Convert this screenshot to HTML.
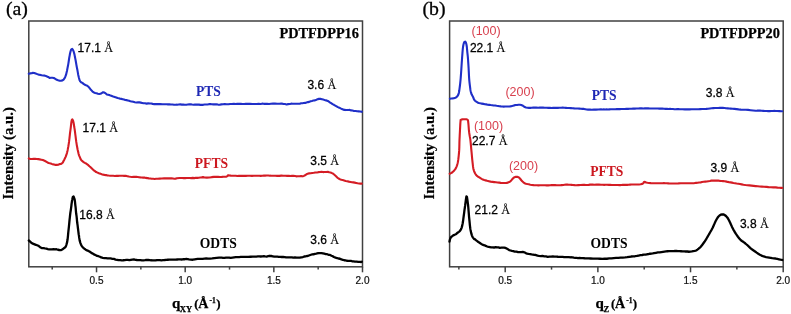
<!DOCTYPE html>
<html><head><meta charset="utf-8"><style>
html,body{margin:0;padding:0;background:#fff;}
body{width:791px;height:314px;overflow:hidden;}
svg{display:block;will-change:transform;}
text{font-family:"Liberation Sans",sans-serif;}
.tk{font-size:10px;fill:#111;stroke:#111;stroke-width:0.22px;}
.ann{font-size:12px;stroke:#000;stroke-width:0.26px;}
.ang{font-family:"Liberation Serif",serif;font-size:12.2px;stroke-width:0.2px;}
.hkl{font-size:12.5px;}
.nm{font-family:"Liberation Serif",serif;font-weight:bold;font-size:13.6px;}
.ttl{font-family:"Liberation Serif",serif;font-weight:bold;font-size:14.3px;fill:#000;stroke:#000;stroke-width:0.25px;}
.pl{font-family:"Liberation Serif",serif;font-size:19.8px;fill:#000;stroke:#000;stroke-width:0.3px;}
.yl{font-family:"Liberation Serif",serif;font-weight:bold;font-size:14.8px;fill:#000;stroke:#000;stroke-width:0.2px;}
.xl{font-family:"Liberation Serif",serif;font-weight:bold;font-size:13px;fill:#000;stroke:#000;stroke-width:0.25px;}
.xq{font-size:15px;}
.xs{font-size:8.6px;}
.xsup{font-size:7.5px;}
.xa{font-size:14px;}
</style></head><body>
<svg width="791" height="314" viewBox="0 0 791 314">
<rect width="791" height="314" fill="#fff"/>
<rect x="28.8" y="21" width="333.7" height="245.8" fill="none" stroke="#404040" stroke-width="1.5"/>
<line x1="52.21" y1="266.8" x2="52.21" y2="269.6" stroke="#404040" stroke-width="1.5"/>
<line x1="96.53" y1="266.8" x2="96.53" y2="272.3" stroke="#404040" stroke-width="1.5"/>
<text x="96.53" y="284" class="tk" text-anchor="middle">0.5</text>
<line x1="140.86" y1="266.8" x2="140.86" y2="269.6" stroke="#404040" stroke-width="1.5"/>
<line x1="185.19" y1="266.8" x2="185.19" y2="272.3" stroke="#404040" stroke-width="1.5"/>
<text x="185.19" y="284" class="tk" text-anchor="middle">1.0</text>
<line x1="229.52" y1="266.8" x2="229.52" y2="269.6" stroke="#404040" stroke-width="1.5"/>
<line x1="273.84" y1="266.8" x2="273.84" y2="272.3" stroke="#404040" stroke-width="1.5"/>
<text x="273.84" y="284" class="tk" text-anchor="middle">1.5</text>
<line x1="318.17" y1="266.8" x2="318.17" y2="269.6" stroke="#404040" stroke-width="1.5"/>
<line x1="362.50" y1="266.8" x2="362.50" y2="272.3" stroke="#404040" stroke-width="1.5"/>
<text x="362.50" y="284" class="tk" text-anchor="middle">2.0</text>
<rect x="449.6" y="21" width="333.6" height="245.8" fill="none" stroke="#404040" stroke-width="1.5"/>
<line x1="458.87" y1="266.8" x2="458.87" y2="269.6" stroke="#404040" stroke-width="1.5"/>
<line x1="505.20" y1="266.8" x2="505.20" y2="272.3" stroke="#404040" stroke-width="1.5"/>
<text x="505.20" y="284" class="tk" text-anchor="middle">0.5</text>
<line x1="551.53" y1="266.8" x2="551.53" y2="269.6" stroke="#404040" stroke-width="1.5"/>
<line x1="597.87" y1="266.8" x2="597.87" y2="272.3" stroke="#404040" stroke-width="1.5"/>
<text x="597.87" y="284" class="tk" text-anchor="middle">1.0</text>
<line x1="644.20" y1="266.8" x2="644.20" y2="269.6" stroke="#404040" stroke-width="1.5"/>
<line x1="690.53" y1="266.8" x2="690.53" y2="272.3" stroke="#404040" stroke-width="1.5"/>
<text x="690.53" y="284" class="tk" text-anchor="middle">1.5</text>
<line x1="736.87" y1="266.8" x2="736.87" y2="269.6" stroke="#404040" stroke-width="1.5"/>
<line x1="783.20" y1="266.8" x2="783.20" y2="272.3" stroke="#404040" stroke-width="1.5"/>
<text x="783.20" y="284" class="tk" text-anchor="middle">2.0</text>
<path d="M28.80,73.70 L30.22,73.38 L31.53,73.19 L32.89,72.87 L34.19,73.01 L35.66,73.54 L37.26,74.14 L38.97,74.79 L40.30,74.90 L41.72,75.29 L43.26,75.56 L44.86,75.64 L46.49,76.29 L48.07,76.91 L49.57,77.93 L50.94,77.78 L52.22,77.71 L53.83,77.99 L55.34,78.83 L56.76,79.77 L58.10,80.25 L59.67,80.73 L61.11,80.62 L62.42,80.47 L63.60,79.61 L64.42,78.49 L65.12,77.23 L65.60,75.96 L66.06,74.69 L66.52,72.73 L67.00,70.68 L67.33,69.01 L67.67,67.33 L68.02,65.57 L68.36,63.60 L68.69,61.48 L69.02,59.24 L69.34,57.19 L69.65,55.59 L69.93,54.05 L70.32,52.36 L70.66,51.00 L71.14,49.61 L72.19,48.89 L73.10,50.04 L73.58,51.27 L74.00,52.68 L74.36,53.96 L74.74,55.86 L75.01,57.26 L75.28,58.64 L75.56,59.99 L75.83,61.45 L76.09,62.95 L76.35,64.59 L76.60,65.95 L76.95,67.83 L77.19,69.05 L77.41,70.06 L77.63,71.41 L77.85,72.61 L78.17,74.52 L78.49,75.94 L78.80,77.29 L79.18,78.70 L79.60,80.26 L80.24,81.34 L81.10,82.27 L82.35,82.87 L83.55,83.82 L84.78,84.78 L86.06,85.30 L87.26,85.70 L88.39,86.68 L89.39,87.88 L90.43,89.20 L91.49,90.39 L92.54,91.53 L93.86,92.47 L95.23,92.95 L96.55,93.27 L97.90,93.76 L99.21,94.00 L100.50,93.82 L101.78,93.03 L103.05,92.23 L104.40,92.60 L105.72,93.43 L106.90,94.45 L108.10,94.74 L109.30,95.08 L110.54,95.60 L111.83,96.07 L113.20,96.57 L114.69,97.01 L116.27,97.46 L117.56,97.98 L118.86,98.24 L120.14,98.69 L121.41,98.86 L122.69,99.19 L123.98,99.54 L125.26,99.96 L126.54,100.14 L127.82,100.44 L129.11,100.79 L130.39,101.22 L131.66,101.48 L133.25,101.79 L134.82,102.20 L136.39,102.45 L137.97,102.38 L139.48,102.40 L140.79,102.64 L142.19,102.96 L143.63,103.30 L145.00,103.31 L146.55,103.60 L148.18,103.40 L149.96,103.54 L151.27,103.53 L152.70,103.88 L154.28,104.14 L156.03,104.17 L157.96,104.12 L160.11,104.11 L162.52,104.20 L165.16,104.24 L166.56,104.29 L167.99,104.33 L169.46,104.38 L170.96,104.48 L172.49,104.51 L174.03,104.78 L175.58,104.76 L177.15,104.67 L178.71,104.43 L180.27,104.41 L181.82,104.60 L183.35,104.62 L184.86,104.69 L186.35,104.81 L187.80,104.56 L189.23,104.39 L190.65,104.22 L192.05,104.56 L193.45,104.72 L194.85,104.64 L196.24,104.67 L197.63,104.67 L199.01,104.65 L200.41,104.85 L201.80,104.84 L203.20,104.83 L204.61,104.52 L206.03,104.44 L207.46,104.48 L208.90,104.15 L210.36,104.11 L211.84,104.21 L213.34,104.37 L214.86,104.40 L216.40,104.37 L217.98,104.58 L219.62,104.73 L221.31,104.39 L223.03,104.21 L224.79,103.96 L226.57,104.19 L228.37,104.32 L230.18,104.01 L231.99,104.02 L233.80,103.68 L235.60,104.03 L237.37,103.69 L239.12,103.83 L240.84,103.85 L242.51,103.97 L244.13,103.94 L245.70,103.86 L247.21,103.87 L248.64,103.82 L250.00,103.88 L252.49,103.97 L254.73,103.93 L256.77,104.07 L258.65,103.83 L260.41,103.98 L262.10,103.66 L263.76,103.83 L265.43,103.83 L267.17,103.91 L269.00,103.98 L270.95,103.74 L272.99,103.57 L275.08,103.59 L277.18,103.69 L279.25,103.77 L281.26,103.56 L283.18,103.84 L284.97,104.06 L286.59,104.41 L288.00,104.15 L289.68,104.04 L291.27,103.67 L292.65,103.75 L293.97,103.81 L295.40,103.75 L297.07,103.79 L298.39,103.70 L299.73,103.74 L301.10,103.27 L302.46,103.20 L303.80,103.02 L305.15,102.91 L306.52,102.44 L307.90,102.10 L309.26,101.91 L310.60,101.33 L311.88,101.02 L313.49,100.56 L314.99,100.37 L316.42,99.76 L317.79,99.12 L319.13,98.85 L320.44,98.86 L321.93,99.16 L323.38,99.62 L324.61,100.05 L326.00,100.37 L327.18,100.72 L328.45,101.21 L329.78,102.33 L331.15,103.21 L332.53,104.14 L333.90,104.80 L335.24,105.55 L336.58,106.30 L337.91,107.12 L339.25,107.66 L340.59,108.38 L341.92,108.96 L343.26,109.64 L344.58,109.84 L345.90,110.08 L347.20,109.92 L348.51,110.06 L349.83,109.90 L351.15,110.40 L352.50,110.55 L353.96,110.96 L355.55,110.98 L357.17,111.27 L358.73,111.34 L360.12,111.51 L361.54,111.84 L361.80,111.70" fill="none" stroke="#1f2fc8" stroke-width="2.1" stroke-linejoin="round" stroke-linecap="round"/>
<path d="M28.80,158.40 L30.37,158.95 L32.13,159.06 L33.62,158.85 L35.18,158.85 L36.72,158.96 L38.18,159.14 L39.71,159.39 L41.30,159.67 L42.91,160.06 L44.51,160.76 L46.04,161.52 L47.46,162.41 L48.75,162.91 L49.97,163.35 L51.50,163.86 L52.90,164.38 L54.15,164.55 L55.50,164.92 L56.86,164.89 L58.26,164.77 L59.50,164.16 L60.76,164.01 L61.94,163.30 L62.84,162.45 L63.66,160.77 L64.42,159.39 L65.05,158.01 L65.65,156.88 L66.24,155.15 L66.68,153.89 L67.10,152.37 L67.50,150.74 L67.78,149.39 L68.05,147.87 L68.31,146.53 L68.57,144.88 L68.82,143.30 L69.06,141.70 L69.30,139.74 L69.46,138.29 L69.61,136.81 L69.76,135.57 L69.91,134.21 L70.12,132.40 L70.33,130.79 L70.53,129.41 L70.73,127.78 L70.92,126.22 L71.10,124.59 L71.27,122.95 L71.49,121.46 L71.75,120.15 L72.31,119.28 L73.02,120.46 L73.36,121.72 L73.66,123.14 L73.93,124.78 L74.14,126.28 L74.35,127.55 L74.57,128.84 L74.79,130.26 L75.00,131.98 L75.21,133.59 L75.41,135.18 L75.61,136.73 L75.81,138.40 L76.02,139.91 L76.24,141.65 L76.48,143.16 L76.73,144.83 L77.00,146.25 L77.28,147.80 L77.55,149.21 L77.83,150.44 L78.20,152.09 L78.57,153.75 L79.05,155.36 L79.60,156.68 L80.13,157.88 L80.61,159.12 L81.36,160.26 L82.40,161.15 L83.59,162.04 L84.86,162.86 L86.12,163.49 L87.29,164.42 L88.33,165.18 L89.43,166.25 L90.61,167.30 L91.61,168.25 L92.69,169.33 L93.83,170.35 L94.98,171.17 L96.13,172.04 L97.53,172.62 L98.89,173.29 L100.26,173.63 L101.70,174.16 L103.23,174.62 L104.52,174.90 L105.85,175.09 L107.22,175.35 L108.64,175.54 L110.11,175.69 L111.65,175.72 L113.23,175.78 L114.82,175.93 L116.41,175.88 L117.97,175.87 L119.53,175.72 L121.09,175.82 L122.65,175.69 L124.21,175.83 L125.76,175.79 L127.29,176.16 L128.82,176.55 L130.37,176.81 L131.99,176.96 L133.68,176.79 L135.00,176.83 L136.34,176.82 L137.70,176.96 L139.06,177.18 L140.41,177.41 L141.74,177.48 L143.11,177.58 L144.50,177.57 L145.88,177.90 L147.21,178.09 L148.88,178.39 L150.32,178.44 L151.64,178.69 L153.17,178.82 L154.64,178.94 L156.04,178.82 L157.73,178.79 L159.65,178.66 L161.78,178.50 L164.08,178.40 L166.52,178.35 L169.06,178.35 L171.65,178.37 L172.97,178.56 L174.28,178.72 L175.60,178.62 L176.90,178.26 L179.52,178.04 L180.88,177.94 L182.28,178.04 L183.72,178.14 L185.19,178.16 L186.69,177.97 L188.20,177.95 L189.72,177.93 L191.25,178.16 L192.79,177.91 L194.32,178.11 L195.83,177.83 L197.33,177.89 L198.81,177.69 L200.26,177.53 L201.68,177.40 L203.06,177.13 L204.39,177.51 L206.90,177.58 L209.28,177.57 L211.61,177.16 L213.88,176.85 L216.06,176.89 L218.12,176.91 L220.06,177.04 L221.84,176.89 L223.43,176.71 L224.83,176.76 L226.47,176.70 L227.39,176.20 L227.90,175.35 L229.24,175.42 L230.91,175.65 L232.85,175.69 L234.27,175.80 L235.76,175.76 L237.31,176.02 L238.89,175.83 L240.50,175.87 L242.13,175.89 L243.91,175.87 L245.83,175.91 L247.84,175.81 L249.89,175.80 L251.95,175.86 L253.96,175.81 L255.88,175.80 L257.67,175.70 L259.28,175.73 L260.66,175.84 L262.26,175.72 L263.82,175.67 L265.15,175.62 L266.72,175.57 L268.34,175.49 L269.73,175.67 L271.36,175.72 L273.17,175.82 L275.13,175.82 L277.17,175.89 L279.26,175.87 L281.35,175.67 L283.40,175.79 L285.35,175.71 L287.16,175.86 L288.81,175.77 L290.41,175.98 L291.96,175.84 L293.47,175.90 L294.93,176.04 L296.32,176.34 L297.64,176.21 L299.47,176.30 L301.10,176.11 L302.48,176.33 L303.83,175.89 L305.04,175.30 L306.16,174.50 L307.64,173.67 L309.09,173.37 L310.63,173.26 L312.23,173.03 L313.83,172.83 L315.38,172.51 L316.90,172.53 L318.42,172.16 L319.94,171.96 L321.46,171.83 L322.99,172.08 L324.59,172.01 L326.23,171.98 L327.82,171.86 L329.31,172.23 L330.60,172.45 L331.93,173.08 L333.05,173.61 L334.10,174.55 L335.23,175.48 L336.28,176.50 L337.31,177.61 L338.53,178.48 L339.80,179.21 L341.37,179.73 L342.69,180.09 L344.12,180.51 L345.64,180.94 L347.22,181.28 L348.85,181.64 L350.58,181.92 L351.90,182.18 L353.30,182.35 L354.75,182.64 L356.20,182.97 L357.60,183.29 L358.90,183.42 L360.59,183.61 L361.80,183.60" fill="none" stroke="#d41c24" stroke-width="2.1" stroke-linejoin="round" stroke-linecap="round"/>
<path d="M28.80,240.50 L29.88,241.40 L31.02,242.54 L32.19,243.39 L33.45,243.87 L34.62,244.34 L35.87,244.82 L37.12,245.27 L38.31,245.77 L39.48,246.65 L40.65,247.57 L42.06,248.20 L43.49,248.21 L44.93,248.44 L46.38,248.62 L47.82,249.09 L49.26,249.45 L50.70,249.30 L52.14,249.43 L53.58,249.13 L55.03,249.47 L56.46,249.24 L57.91,249.75 L59.38,250.00 L60.77,250.20 L62.20,249.48 L63.48,248.57 L64.68,247.80 L65.57,246.89 L66.07,245.70 L66.47,244.56 L66.85,243.11 L67.12,242.10 L67.35,240.73 L67.60,239.30 L67.79,237.52 L68.00,235.56 L68.21,233.07 L68.44,230.96 L68.67,228.86 L68.91,226.68 L69.14,224.30 L69.37,221.87 L69.59,219.71 L69.80,217.75 L70.00,215.79 L70.20,214.06 L70.39,212.53 L70.59,211.34 L70.77,210.23 L70.96,208.95 L71.13,207.71 L71.38,205.76 L71.60,203.72 L71.80,202.29 L72.02,200.65 L72.26,199.65 L72.52,198.28 L72.83,197.07 L73.64,196.53 L74.10,197.81 L74.46,198.84 L74.75,200.06 L74.97,201.71 L75.17,203.53 L75.38,205.55 L75.53,206.71 L75.69,208.10 L75.86,210.28 L76.02,212.05 L76.19,213.77 L76.36,214.79 L76.53,215.92 L76.70,217.44 L76.87,219.23 L77.04,221.25 L77.22,222.78 L77.40,223.98 L77.58,225.14 L77.75,226.56 L77.92,228.00 L78.09,229.35 L78.33,231.44 L78.54,232.99 L78.72,234.50 L78.94,235.52 L79.15,237.41 L79.39,238.84 L79.68,240.57 L80.00,241.68 L80.44,243.12 L80.94,244.42 L81.50,245.61 L82.27,246.71 L83.29,247.78 L84.40,248.71 L85.71,249.69 L87.08,250.45 L88.30,250.89 L89.50,251.56 L90.52,252.22 L91.74,253.16 L93.10,253.79 L94.51,254.68 L95.87,255.21 L97.13,255.91 L98.44,256.22 L99.92,256.78 L101.24,257.49 L102.80,257.83 L104.66,258.19 L106.05,258.10 L107.53,258.31 L109.08,258.39 L110.68,258.41 L112.31,258.78 L113.94,258.91 L115.56,259.56 L117.13,259.78 L118.66,260.18 L120.17,260.21 L121.69,260.38 L123.21,260.26 L124.73,260.03 L126.25,259.87 L127.78,259.97 L129.30,260.10 L130.82,259.82 L132.34,259.55 L133.87,259.39 L135.45,259.80 L137.08,260.01 L138.72,260.05 L140.36,260.17 L141.98,260.37 L143.54,260.40 L145.03,260.18 L146.43,259.86 L148.30,259.98 L149.78,260.10 L151.22,260.27 L152.68,260.39 L154.02,260.36 L155.36,260.46 L157.11,260.08 L158.44,260.21 L159.88,260.07 L161.40,260.27 L162.97,260.10 L164.59,260.02 L166.23,259.88 L167.85,259.74 L169.45,259.69 L171.00,259.65 L172.52,259.56 L174.06,259.62 L175.60,259.57 L177.14,259.49 L178.68,259.44 L180.22,259.36 L181.74,259.51 L183.25,259.20 L184.74,259.25 L186.20,258.93 L187.61,259.10 L188.95,259.36 L190.87,259.63 L192.78,259.74 L194.75,259.27 L196.13,259.04 L197.59,258.87 L199.17,258.92 L200.86,258.95 L202.60,258.80 L204.38,258.57 L206.22,258.43 L208.13,258.56 L210.12,258.53 L212.19,258.42 L214.36,258.10 L216.65,257.88 L219.05,257.66 L221.61,257.59 L223.00,257.78 L224.46,257.92 L225.98,257.70 L227.55,257.67 L229.16,257.58 L230.80,257.87 L232.46,257.64 L234.14,257.41 L235.82,257.18 L237.49,257.12 L239.15,257.09 L240.78,256.93 L242.38,256.85 L243.93,256.82 L245.43,256.91 L246.87,256.94 L248.23,256.93 L250.70,256.73 L252.84,256.70 L254.71,256.70 L256.38,256.52 L257.88,256.36 L259.26,256.42 L260.56,256.50 L262.46,256.29 L263.77,256.23 L265.16,256.43 L266.66,256.53 L268.18,256.15 L269.71,255.77 L271.24,256.00 L272.76,256.29 L274.29,256.60 L275.80,256.54 L277.30,256.66 L278.80,256.85 L280.27,256.89 L281.73,257.02 L283.21,256.97 L284.70,257.09 L286.19,257.40 L287.66,257.37 L289.12,257.32 L290.53,257.29 L291.89,257.36 L293.19,257.57 L295.00,257.40 L296.60,257.63 L298.02,257.58 L299.72,257.67 L301.32,257.32 L302.94,257.06 L304.24,256.50 L305.58,256.33 L306.91,255.99 L308.25,255.79 L309.59,255.26 L310.92,254.75 L312.26,254.38 L313.58,254.27 L314.90,253.95 L316.22,253.62 L317.54,253.25 L318.86,253.16 L320.18,253.04 L321.50,253.15 L322.87,253.44 L324.30,253.74 L325.75,254.10 L327.16,254.18 L328.49,254.79 L330.06,254.95 L331.50,255.68 L332.76,256.25 L333.94,257.05 L335.51,257.68 L337.14,258.13 L338.50,258.51 L339.93,258.74 L341.38,259.40 L342.79,259.78 L344.14,260.25 L345.46,260.34 L346.77,260.76 L348.07,260.84 L349.39,260.96 L350.71,260.95 L352.05,261.23 L353.45,261.36 L355.01,261.56 L356.63,261.65 L358.22,261.88 L359.68,261.91 L361.24,262.02 L361.80,261.70" fill="none" stroke="#000" stroke-width="2.3" stroke-linejoin="round" stroke-linecap="round"/>
<path d="M449.90,98.80 L451.28,98.53 L452.57,98.39 L453.92,98.21 L455.37,97.75 L456.54,97.07 L457.53,96.01 L458.20,94.89 L458.67,93.66 L459.00,92.20 L459.21,91.02 L459.40,89.61 L459.60,88.12 L459.82,86.49 L460.02,84.80 L460.22,83.04 L460.37,81.66 L460.51,80.26 L460.64,78.75 L460.77,77.10 L460.90,75.37 L461.02,73.72 L461.14,72.03 L461.25,70.45 L461.36,68.70 L461.47,67.01 L461.58,65.29 L461.69,63.74 L461.79,62.19 L461.89,60.70 L462.00,59.17 L462.10,57.66 L462.20,56.27 L462.31,54.84 L462.41,53.57 L462.51,52.15 L462.65,50.52 L462.80,48.92 L462.99,47.32 L463.18,46.01 L463.42,44.77 L463.75,43.50 L464.25,42.22 L465.21,41.55 L465.90,42.66 L466.33,44.01 L466.62,45.47 L466.84,46.99 L466.99,48.50 L467.13,50.10 L467.27,51.63 L467.42,53.02 L467.59,54.54 L467.74,55.93 L467.87,57.28 L468.00,59.01 L468.11,60.51 L468.21,62.11 L468.32,63.68 L468.43,65.25 L468.53,66.88 L468.63,68.53 L468.72,70.33 L468.81,72.10 L468.89,73.93 L468.98,75.61 L469.07,77.29 L469.17,78.76 L469.27,80.10 L469.43,81.74 L469.59,83.21 L469.76,84.59 L469.96,86.16 L470.14,87.70 L470.34,89.22 L470.55,90.46 L470.82,91.76 L471.20,93.18 L471.71,94.55 L472.40,95.71 L473.04,96.89 L473.52,98.23 L474.12,99.60 L475.04,100.74 L476.25,101.65 L477.48,102.40 L478.88,102.95 L480.36,103.34 L481.74,103.60 L483.36,103.90 L484.90,104.19 L486.23,104.38 L487.66,104.67 L489.17,104.84 L490.70,105.06 L492.23,105.21 L493.70,105.45 L495.15,105.56 L496.62,105.81 L498.09,105.98 L499.54,106.25 L500.96,106.40 L502.33,106.51 L503.63,106.59 L505.32,106.55 L506.96,106.55 L508.49,106.47 L509.88,106.40 L511.34,106.21 L512.76,105.82 L514.11,105.38 L515.62,105.08 L517.11,104.92 L518.56,104.76 L519.93,104.73 L521.23,104.96 L522.44,105.42 L523.50,106.24 L524.66,107.01 L526.02,107.49 L527.42,107.75 L528.95,107.86 L530.25,107.84 L531.73,107.73 L533.21,107.63 L534.71,107.65 L536.26,107.64 L538.23,107.74 L539.72,107.63 L541.33,107.62 L543.01,107.64 L544.75,107.75 L546.51,107.77 L548.26,107.85 L549.96,107.92 L551.60,108.03 L553.19,107.83 L554.78,107.83 L556.37,107.80 L557.96,107.88 L559.54,107.81 L561.13,107.72 L562.72,107.67 L564.31,107.72 L565.91,107.85 L567.50,107.97 L569.14,108.04 L570.85,108.10 L572.59,108.20 L574.35,108.39 L576.09,108.51 L577.78,108.56 L579.40,108.61 L580.91,108.72 L582.28,108.85 L584.02,108.92 L585.35,109.16 L586.71,109.50 L588.10,109.65 L590.00,109.62 L591.73,109.69 L593.74,109.67 L595.97,109.65 L598.40,109.49 L601.00,109.40 L602.35,109.43 L603.73,109.42 L605.13,109.48 L606.56,109.42 L608.00,109.45 L609.45,109.38 L610.91,109.32 L612.38,109.32 L613.84,109.28 L615.30,109.19 L616.78,109.10 L618.29,109.12 L619.85,109.08 L621.44,109.05 L623.05,108.93 L624.69,108.97 L626.36,108.88 L628.04,108.89 L629.73,108.75 L631.44,108.74 L633.15,108.58 L634.86,108.58 L636.57,108.51 L638.28,108.45 L639.98,108.42 L641.66,108.37 L643.33,108.44 L644.98,108.30 L646.60,108.40 L648.20,108.36 L649.78,108.54 L651.37,108.52 L652.96,108.55 L654.55,108.50 L656.13,108.49 L657.72,108.56 L659.30,108.61 L660.87,108.61 L662.43,108.63 L663.98,108.71 L665.52,108.84 L667.04,108.91 L668.55,108.97 L670.04,108.91 L671.51,108.96 L672.96,109.05 L674.39,109.22 L675.79,109.23 L677.16,109.15 L678.50,109.13 L679.82,109.24 L682.38,109.31 L684.85,109.39 L687.24,109.33 L689.55,109.39 L691.80,109.32 L694.00,109.24 L696.13,109.18 L698.23,109.20 L700.28,109.12 L702.31,109.06 L704.28,108.96 L706.20,108.92 L708.08,108.75 L709.90,108.49 L711.67,108.29 L713.39,108.10 L715.05,108.06 L716.67,107.99 L718.24,107.99 L719.73,107.86 L721.07,107.80 L722.83,107.85 L724.45,108.02 L726.07,108.26 L727.85,108.40 L729.21,108.50 L730.75,108.62 L732.50,108.74 L734.42,108.91 L736.47,109.10 L738.63,109.40 L740.89,109.61 L743.23,109.70 L745.64,109.82 L748.11,109.91 L750.61,110.17 L753.14,110.42 L755.71,110.68 L757.10,110.67 L758.56,110.61 L760.08,110.63 L761.65,110.72 L763.25,110.85 L764.87,110.97 L766.49,111.07 L768.12,111.09 L769.73,111.12 L771.30,110.97 L772.84,110.93 L774.33,110.91 L775.75,111.00 L777.09,111.06 L779.49,111.11 L781.43,111.22 L782.20,111.20" fill="none" stroke="#1f2fc8" stroke-width="2.1" stroke-linejoin="round" stroke-linecap="round"/>
<path d="M449.70,173.80 L450.97,173.17 L452.14,172.50 L453.19,171.53 L454.24,170.41 L455.10,169.32 L455.88,168.08 L456.47,166.84 L457.02,165.38 L457.42,164.02 L457.79,162.45 L458.05,161.09 L458.29,159.45 L458.51,157.66 L458.72,155.75 L458.90,153.97 L459.05,152.16 L459.18,150.41 L459.27,148.50 L459.33,146.76 L459.37,145.04 L459.40,143.34 L459.44,141.63 L459.50,139.99 L459.57,138.44 L459.64,136.93 L459.72,135.40 L459.80,133.80 L459.87,132.32 L459.95,130.83 L460.02,129.50 L460.10,127.97 L460.17,126.59 L460.24,125.16 L460.31,123.91 L460.41,122.52 L460.54,121.17 L460.59,119.92 L461.87,119.35 L463.50,119.20 L464.98,119.18 L466.33,119.32 L467.60,119.66 L468.10,120.88 L468.24,122.29 L468.41,123.86 L468.53,125.25 L468.65,126.89 L468.76,128.38 L468.88,129.86 L469.04,131.36 L469.20,132.74 L469.41,134.11 L469.65,135.64 L469.87,136.91 L470.16,138.35 L470.36,139.72 L470.54,141.38 L470.69,142.86 L470.86,144.64 L471.04,146.54 L471.21,148.57 L471.39,150.39 L471.56,152.15 L471.72,153.89 L471.89,155.75 L472.06,157.55 L472.22,159.30 L472.39,160.92 L472.55,162.38 L472.70,163.68 L472.87,165.25 L473.03,166.67 L473.27,168.20 L473.60,169.65 L474.04,171.03 L474.56,172.34 L475.14,173.51 L475.94,174.76 L476.93,175.89 L478.09,176.74 L479.32,177.47 L480.43,178.20 L481.67,178.94 L482.85,179.58 L484.29,180.06 L485.60,180.38 L487.13,180.82 L488.83,181.23 L490.63,181.64 L492.45,181.89 L494.23,182.11 L495.90,182.30 L497.52,182.46 L499.16,182.64 L500.79,182.86 L502.35,182.99 L503.81,183.03 L505.13,183.03 L506.58,182.86 L507.93,182.60 L509.13,182.06 L510.40,181.27 L511.49,180.19 L512.47,178.95 L513.40,177.95 L514.58,177.23 L515.81,176.86 L517.19,176.80 L518.42,177.22 L519.60,178.07 L520.53,179.26 L521.34,180.26 L522.22,181.29 L523.37,182.31 L524.57,183.20 L525.97,183.74 L527.41,184.07 L528.79,184.34 L530.33,184.73 L531.96,184.98 L533.64,185.14 L535.31,185.22 L536.86,185.26 L538.40,185.36 L540.06,185.26 L541.47,185.23 L543.10,185.18 L545.04,185.28 L546.55,185.33 L548.20,185.33 L549.93,185.20 L551.71,185.15 L553.48,185.12 L555.19,185.17 L556.82,185.22 L558.30,185.21 L560.18,185.23 L561.69,185.12 L563.33,184.97 L564.72,184.78 L566.04,184.67 L567.50,184.66 L568.83,184.68 L570.17,184.81 L571.48,184.87 L572.84,185.05 L574.73,185.17 L576.36,185.22 L578.37,185.10 L580.68,184.94 L583.22,184.89 L584.55,184.89 L585.91,185.00 L587.29,184.96 L588.68,184.88 L590.07,184.65 L591.45,184.66 L592.81,184.67 L594.14,184.68 L596.67,184.58 L598.96,184.48 L600.96,184.69 L602.70,184.76 L604.24,184.91 L605.64,184.82 L606.95,184.77 L608.90,184.86 L610.26,184.87 L611.75,185.03 L613.41,184.98 L615.30,185.00 L617.52,184.99 L620.06,185.10 L621.43,185.06 L622.83,184.91 L624.27,184.84 L625.73,184.89 L627.20,184.87 L628.67,184.75 L630.12,184.64 L631.55,184.57 L632.94,184.51 L634.28,184.53 L636.76,184.47 L638.90,184.44 L640.60,184.21 L642.34,183.85 L643.52,183.13 L643.95,181.94 L644.89,181.78 L646.07,182.50 L647.53,182.75 L648.98,182.96 L650.84,183.15 L653.05,183.26 L655.53,183.28 L656.85,183.24 L658.22,183.22 L659.61,183.22 L661.03,183.23 L662.47,183.18 L663.91,183.15 L665.34,183.21 L666.77,183.31 L668.17,183.36 L669.55,183.43 L670.88,183.44 L673.40,183.49 L675.83,183.48 L678.32,183.42 L680.82,183.29 L683.30,183.23 L685.74,183.19 L688.11,183.28 L690.37,183.20 L692.49,183.19 L694.45,183.08 L696.20,182.89 L697.72,182.76 L699.03,182.57 L700.67,182.39 L702.04,182.09 L703.67,181.81 L705.35,181.58 L706.80,181.45 L708.32,181.18 L709.83,180.94 L711.35,180.65 L712.86,180.59 L714.38,180.55 L715.89,180.59 L717.39,180.62 L718.81,180.67 L720.20,180.85 L721.61,180.94 L723.10,181.08 L724.71,181.23 L726.50,181.61 L727.79,181.90 L729.13,182.17 L730.53,182.37 L731.97,182.62 L733.47,182.94 L735.02,183.23 L736.61,183.53 L738.26,183.77 L739.95,184.04 L741.70,184.39 L743.52,184.72 L745.42,185.00 L747.39,185.18 L749.42,185.41 L751.48,185.66 L753.57,185.87 L755.68,186.10 L757.77,186.31 L759.85,186.50 L761.90,186.65 L764.02,186.76 L766.28,186.91 L768.62,187.13 L770.99,187.21 L773.31,187.37 L775.54,187.42 L777.60,187.60 L779.44,187.71 L780.99,187.86 L782.20,187.90" fill="none" stroke="#d41c24" stroke-width="2.1" stroke-linejoin="round" stroke-linecap="round"/>
<path d="M449.50,241.50 L449.81,239.98 L450.18,238.73 L450.70,237.62 L451.59,236.64 L452.68,235.81 L453.89,235.12 L455.13,234.57 L456.33,233.91 L457.62,232.72 L458.84,231.83 L459.80,231.08 L460.59,230.08 L461.23,228.82 L461.68,227.62 L462.09,226.17 L462.39,224.78 L462.70,223.20 L463.01,221.30 L463.21,219.85 L463.40,218.41 L463.59,216.92 L463.78,215.52 L463.96,214.21 L464.15,212.87 L464.32,211.47 L464.50,209.94 L464.76,208.21 L464.94,206.92 L465.12,205.70 L465.29,204.21 L465.54,202.46 L465.77,200.78 L465.98,199.24 L466.20,197.75 L466.42,196.36 L466.90,196.78 L467.18,198.39 L467.43,200.21 L467.62,201.56 L467.82,203.06 L468.00,204.36 L468.18,206.16 L468.30,207.37 L468.42,208.89 L468.53,210.36 L468.65,211.55 L468.77,213.17 L468.89,214.65 L469.01,216.29 L469.14,217.55 L469.32,219.41 L469.50,221.17 L469.67,222.96 L469.85,224.83 L470.05,226.58 L470.26,228.20 L470.50,229.66 L470.76,231.00 L471.04,232.39 L471.44,233.96 L471.88,235.37 L472.35,236.43 L472.99,237.62 L473.96,238.88 L475.07,239.40 L476.18,240.34 L477.25,241.10 L478.40,242.11 L479.55,242.80 L480.67,243.54 L481.79,244.21 L483.14,244.91 L484.50,245.32 L485.84,245.91 L487.18,246.46 L488.60,246.98 L489.87,247.17 L491.19,247.42 L492.59,247.32 L494.13,247.51 L495.53,247.18 L497.18,247.44 L498.50,247.45 L499.82,247.87 L501.46,247.70 L502.80,247.64 L504.09,247.59 L505.30,247.89 L506.66,248.53 L507.85,249.18 L509.19,250.16 L510.44,250.49 L511.90,250.91 L513.23,251.13 L514.77,251.53 L516.43,251.68 L518.13,252.17 L519.76,252.07 L521.24,252.13 L522.84,251.97 L524.29,252.32 L525.73,253.07 L527.11,253.60 L528.56,253.89 L530.21,254.08 L531.54,254.41 L532.93,254.65 L534.38,254.91 L535.88,254.99 L537.42,255.65 L539.03,255.90 L540.72,256.08 L542.46,255.94 L544.23,256.29 L545.99,256.44 L547.73,256.91 L549.44,256.61 L551.15,256.71 L552.87,256.46 L554.58,256.58 L556.28,256.60 L557.95,256.74 L559.60,256.79 L561.17,256.78 L562.65,256.88 L564.11,257.08 L565.58,257.19 L567.13,257.21 L568.79,257.04 L570.63,257.27 L572.53,257.32 L573.83,257.57 L575.17,257.77 L576.56,257.90 L578.00,258.06 L579.52,257.98 L581.12,258.05 L582.81,258.07 L584.60,258.23 L586.52,258.33 L588.57,258.43 L590.72,258.52 L592.97,258.64 L595.27,258.64 L597.61,258.71 L599.97,258.74 L602.32,258.90 L604.64,258.70 L606.90,258.74 L609.15,258.47 L611.43,258.32 L613.73,258.04 L616.04,257.95 L618.33,257.91 L620.60,257.71 L622.84,257.57 L625.03,257.43 L627.15,257.21 L629.20,256.86 L631.18,256.52 L633.12,256.36 L635.02,256.23 L636.86,255.95 L638.67,255.54 L640.43,255.20 L642.14,255.00 L643.81,254.73 L645.43,254.55 L647.00,254.26 L648.52,254.09 L649.98,253.74 L651.39,253.59 L652.76,253.36 L654.07,253.10 L655.98,252.77 L657.83,252.47 L659.61,252.38 L661.34,252.11 L662.96,251.88 L664.50,251.63 L665.98,251.42 L667.44,251.26 L668.90,251.12 L670.40,251.11 L671.92,251.10 L673.43,251.06 L674.95,250.97 L676.46,251.02 L677.97,251.07 L679.49,251.20 L681.01,251.23 L682.59,251.43 L684.21,251.40 L685.83,251.50 L687.41,251.51 L688.90,251.74 L690.28,251.63 L691.87,251.39 L693.22,251.15 L694.73,250.96 L696.18,250.48 L697.42,249.64 L698.65,248.66 L699.86,247.58 L700.78,246.73 L701.73,245.57 L702.71,244.21 L703.76,242.72 L704.49,241.79 L705.26,240.65 L706.05,239.46 L706.85,238.02 L707.65,236.68 L708.45,235.28 L709.24,233.90 L710.01,232.55 L710.74,231.27 L711.45,230.07 L712.13,228.74 L712.80,227.44 L713.46,225.99 L714.10,224.59 L714.72,223.15 L715.34,221.77 L715.94,220.60 L716.82,218.91 L717.68,217.55 L718.50,216.50 L719.53,215.50 L720.76,214.71 L722.25,214.28 L723.74,214.50 L724.97,215.24 L725.97,216.01 L727.04,217.21 L727.89,218.32 L728.80,219.95 L729.42,221.14 L730.07,222.50 L730.72,223.98 L731.38,225.40 L732.04,226.92 L732.70,228.27 L733.35,229.56 L734.00,230.69 L734.97,232.31 L735.96,233.95 L736.96,235.36 L737.94,236.76 L738.90,237.96 L739.82,239.17 L740.95,240.22 L741.96,240.99 L743.13,241.78 L744.33,242.61 L745.40,243.50 L746.53,244.49 L747.68,245.48 L748.90,246.62 L749.90,247.55 L751.00,248.60 L752.22,249.50 L753.60,250.44 L755.09,251.49 L756.66,252.65 L758.28,253.78 L759.90,254.75 L761.49,255.58 L763.02,256.16 L764.55,256.70 L766.08,257.08 L767.62,257.27 L769.15,257.54 L770.68,257.78 L772.20,258.07 L773.82,258.31 L775.56,258.51 L777.31,258.91 L778.99,259.28 L780.49,259.58 L782.02,259.85 L782.30,260.00" fill="none" stroke="#000" stroke-width="2.3" stroke-linejoin="round" stroke-linecap="round"/>
<text x="77.6" y="51.7" class="ann" fill="#000">17.1 <tspan class="ang">Å</tspan></text>
<text x="307.4" y="89" class="ann" fill="#000">3.6 <tspan class="ang">Å</tspan></text>
<text x="82.6" y="132.4" class="ann" fill="#000">17.1 <tspan class="ang">Å</tspan></text>
<text x="310.3" y="164.8" class="ann" fill="#000">3.5 <tspan class="ang">Å</tspan></text>
<text x="79.3" y="218.9" class="ann" fill="#000">16.8 <tspan class="ang">Å</tspan></text>
<text x="310.3" y="244" class="ann" fill="#000">3.6 <tspan class="ang">Å</tspan></text>
<text x="469.9" y="51.8" class="ann" fill="#000">22.1 <tspan class="ang">Å</tspan></text>
<text x="705.8" y="97.3" class="ann" fill="#000">3.8 <tspan class="ang">Å</tspan></text>
<text x="472" y="144.7" class="ann" fill="#000">22.7 <tspan class="ang">Å</tspan></text>
<text x="710.4" y="171.5" class="ann" fill="#000">3.9 <tspan class="ang">Å</tspan></text>
<text x="474.6" y="214.3" class="ann" fill="#000">21.2 <tspan class="ang">Å</tspan></text>
<text x="739.9" y="227.7" class="ann" fill="#000">3.8 <tspan class="ang">Å</tspan></text>
<text x="471.5" y="34.8" class="hkl" fill="#d8404e">(100)</text>
<text x="505.4" y="95.8" class="hkl" fill="#d8404e">(200)</text>
<text x="473.9" y="130.0" class="hkl" fill="#d8404e">(100)</text>
<text x="508.9" y="169.6" class="hkl" fill="#d8404e">(200)</text>
<text transform="translate(196,95.5) scale(1,1)" class="nm" fill="#1e28b4">PTS</text>
<text transform="translate(194.8,168.1) scale(1,1)" class="nm" fill="#cc1820">PFTS</text>
<text transform="translate(199.8,248.3) scale(1,1)" class="nm" fill="#000">ODTS</text>
<text transform="translate(591.7,99.6) scale(1,1)" class="nm" fill="#1e28b4">PTS</text>
<text transform="translate(590.2,175.8) scale(1,1)" class="nm" fill="#cc1820">PFTS</text>
<text transform="translate(590.5,248.3) scale(1,1)" class="nm" fill="#000">ODTS</text>
<text x="279.5" y="37.8" class="ttl">PDTFDPP16</text>
<text x="700.4" y="37.9" class="ttl">PDTFDPP20</text>
<text x="6" y="15.2" class="pl">(a)</text>
<text x="422.5" y="14.6" class="pl">(b)</text>
<text transform="translate(12.5,153.3) rotate(-90)" text-anchor="middle" class="yl">Intensity (a.u.)</text>
<text transform="translate(433.9,153.3) rotate(-90)" text-anchor="middle" class="yl">Intensity (a.u.)</text>
<text class="xl"><tspan x="171.9" y="307.8" class="xq">q</tspan><tspan x="179.70000000000002" y="312" class="xs">XY</tspan><tspan x="194.3" y="307.6">(</tspan><tspan x="198.3" y="307.6" class="xa">Å</tspan><tspan x="209.60000000000002" y="302.5" class="xsup">-1</tspan><tspan x="216.20000000000002" y="307.6">)</tspan></text>
<text class="xl"><tspan x="595.6" y="307.8" class="xq">q</tspan><tspan x="603.4" y="312" class="xs">Z</tspan><tspan x="610.9" y="307.6">(</tspan><tspan x="614.9" y="307.6" class="xa">Å</tspan><tspan x="626.1999999999999" y="302.5" class="xsup">-1</tspan><tspan x="632.8" y="307.6">)</tspan></text>
</svg>
</body></html>
